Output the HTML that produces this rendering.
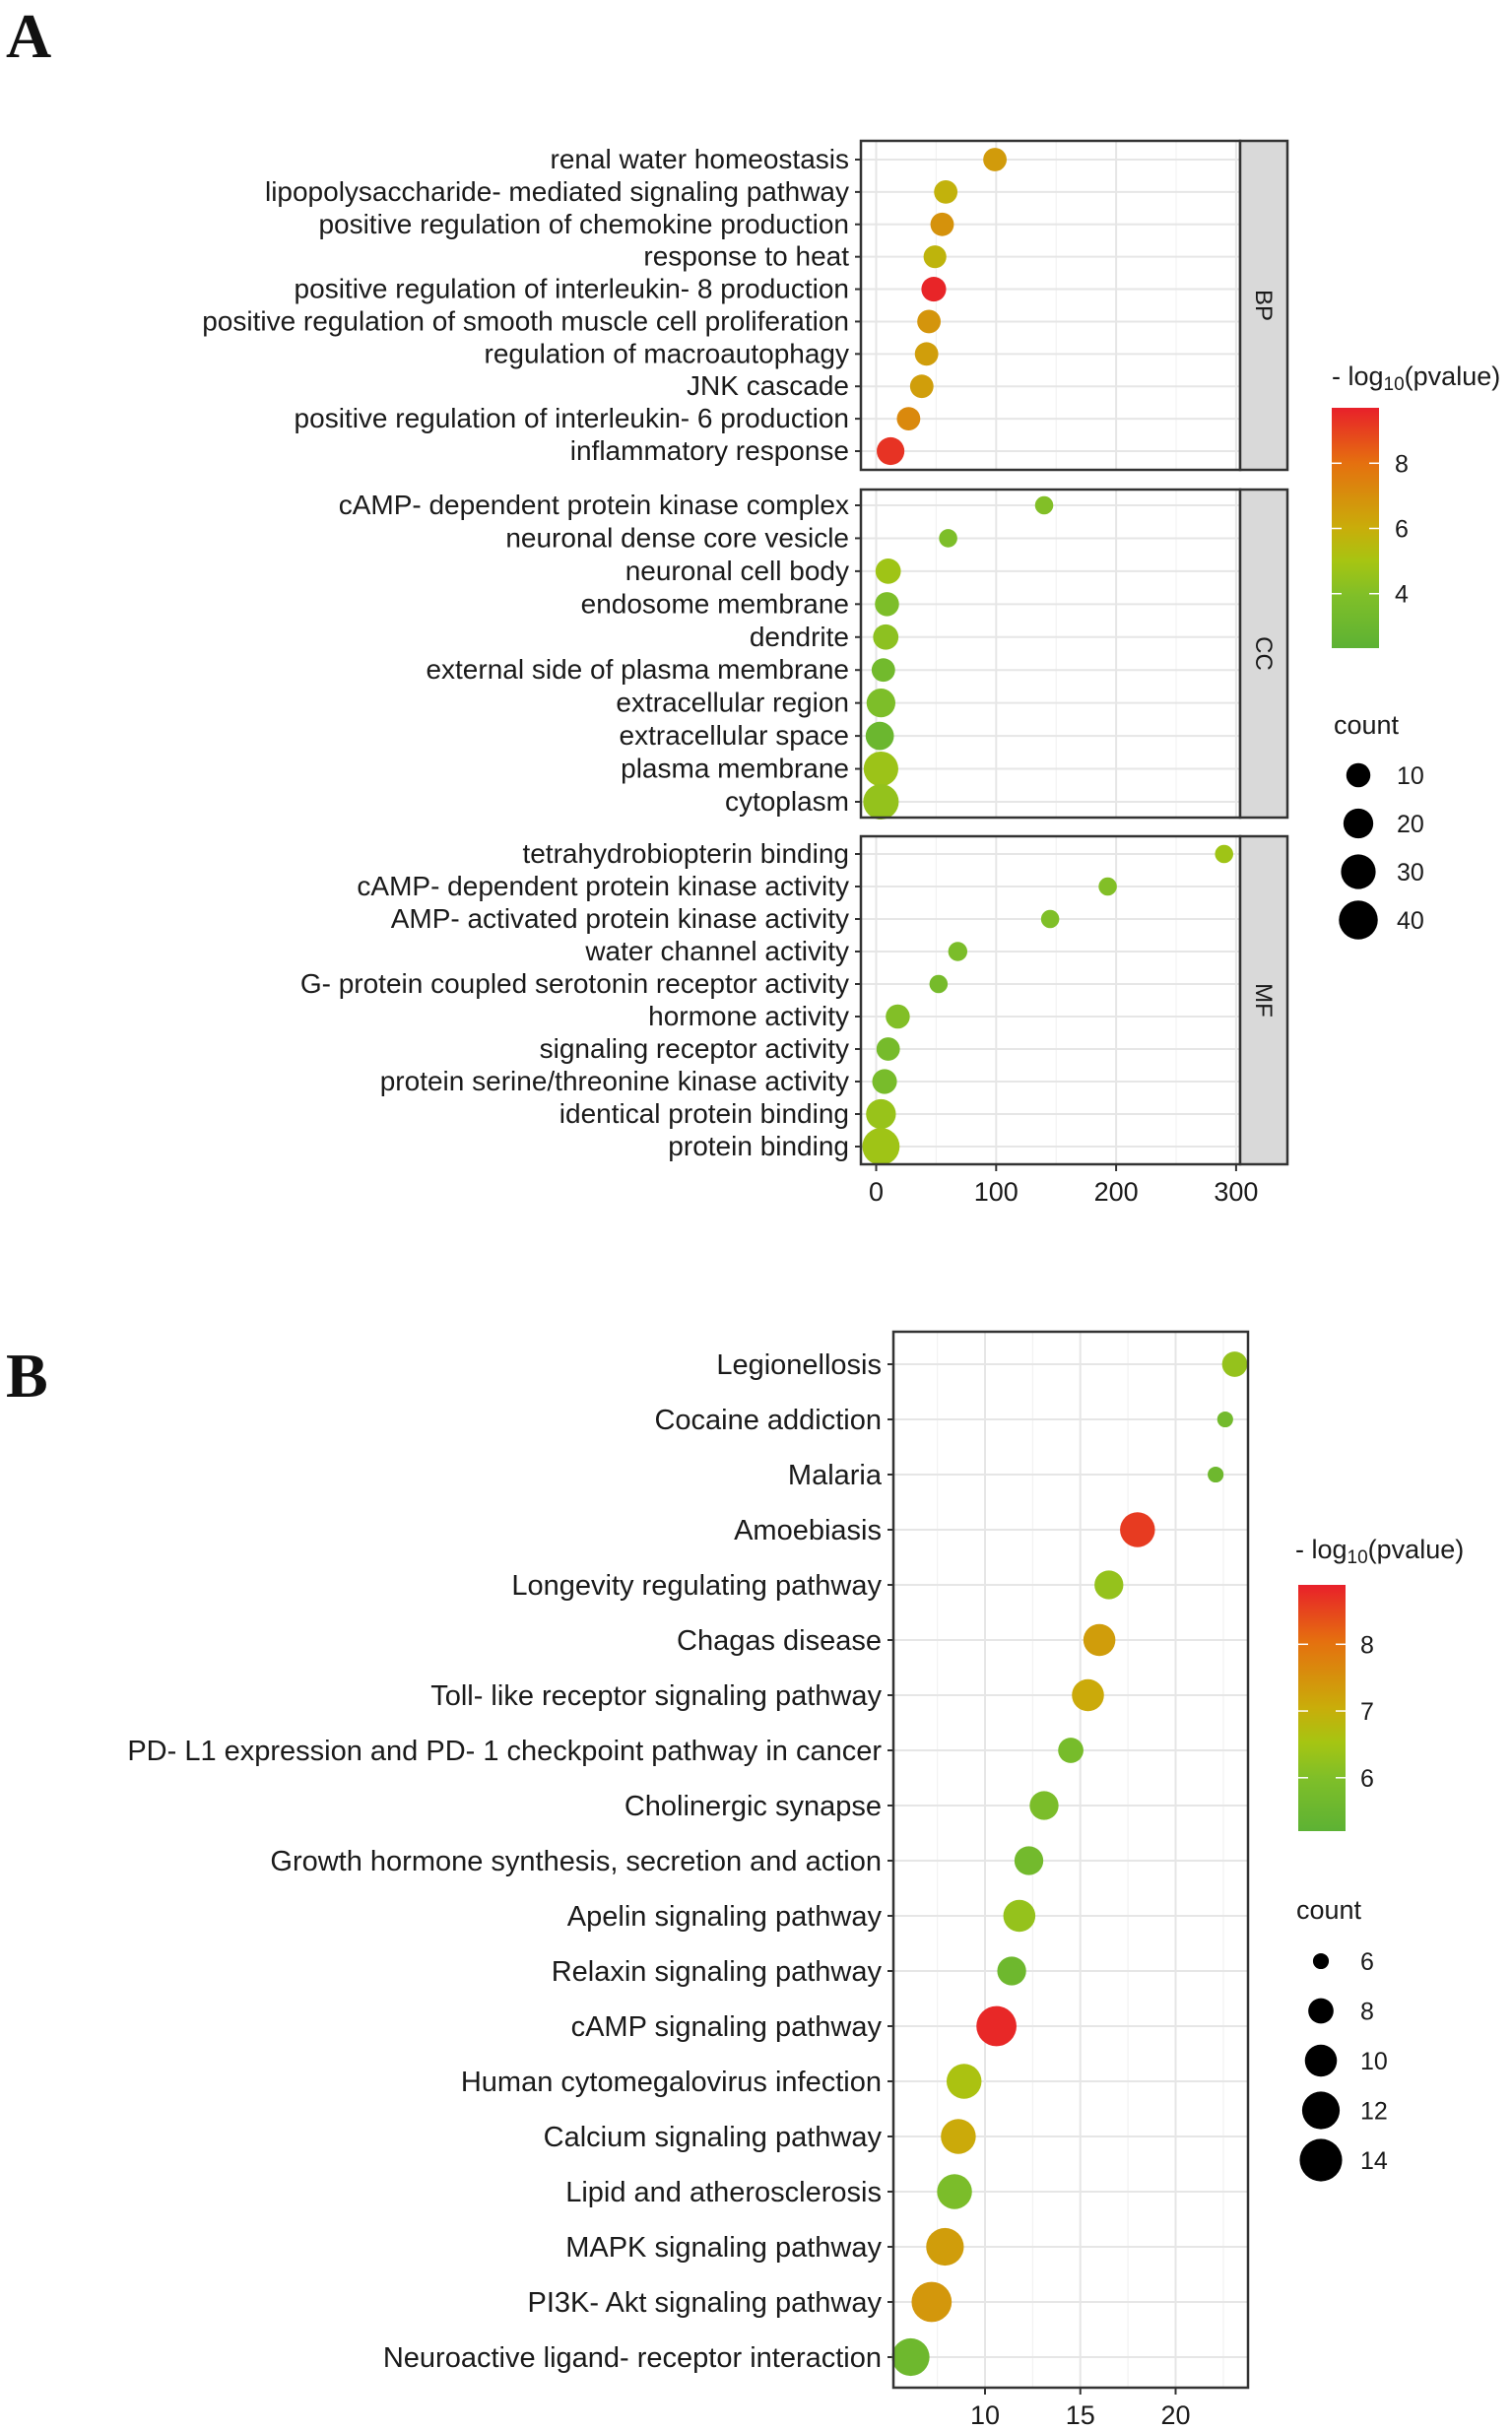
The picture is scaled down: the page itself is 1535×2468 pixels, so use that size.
<!DOCTYPE html>
<html><head><meta charset="utf-8"><style>
html,body{margin:0;padding:0;background:#fff;}
svg text{font-family:"Liberation Sans",Arial,sans-serif;fill:#1a1a1a;}
</style></head><body>
<svg id="fig" width="1535" height="2463" viewBox="0 0 1535 2463" xmlns="http://www.w3.org/2000/svg">
<defs>
<linearGradient id="grad" x1="0" y1="1" x2="0" y2="0">
<stop offset="0" stop-color="#5db234"/><stop offset="0.22" stop-color="#80bf28"/><stop offset="0.36" stop-color="#a6c512"/><stop offset="0.5" stop-color="#c9ad0a"/><stop offset="0.77" stop-color="#e5700f"/><stop offset="1" stop-color="#e8202a"/>
</linearGradient>
</defs>
<text x="6" y="58" style="font-family:'Liberation Serif',serif;font-weight:bold;font-size:64px;fill:#111">A</text>
<text x="6" y="1418" style="font-family:'Liberation Serif',serif;font-weight:bold;font-size:64px;fill:#111">B</text>
<g id="gA"></g>
<g id="gB"></g>
</svg>
<script>
// ---- Chart A data ----
const bpTerms=["renal water homeostasis","lipopolysaccharide- mediated signaling pathway","positive regulation of chemokine production","response to heat","positive regulation of interleukin- 8 production","positive regulation of smooth muscle cell proliferation","regulation of macroautophagy","JNK cascade","positive regulation of interleukin- 6 production","inflammatory response"];
const bpX=[99,58,55,49,48,44,42,38,27,12];
const bpP=[6.6,5.8,6.9,5.7,9.6,6.8,6.5,6.5,7.2,9.3];
const bpN=[9,9,9,8,11,9,9,9,9,16];
const ccTerms=["cAMP- dependent protein kinase complex","neuronal dense core vesicle","neuronal cell body","endosome membrane","dendrite","external side of plasma membrane","extracellular region","extracellular space","plasma membrane","cytoplasm"];
const ccX=[140,60,10,9,8,6,4,3,4,4];
const ccP=[4.0,3.8,4.8,3.8,4.3,3.3,3.8,3.0,4.7,4.5];
const ccN=[2,2,12,10,12,9,18,17,30,32];
const mfTerms=["tetrahydrobiopterin binding","cAMP- dependent protein kinase activity","AMP- activated protein kinase activity","water channel activity","G- protein coupled serotonin receptor activity","hormone activity","signaling receptor activity","protein serine/threonine kinase activity","identical protein binding","protein binding"];
const mfX=[290,193,145,68,52,18,10,7,4,4];
const mfP=[4.8,4.0,3.9,3.7,3.5,4.0,3.5,3.6,4.6,4.8];
const mfN=[2,2,2,3,2,10,9,11,20,36];
const aTicks=[0,100,200,300];
const aColorTicks=[4,6,8];
const aCountTicks=[10,20,30,40];
// ---- Chart B data ----
const bTerms=["Legionellosis","Cocaine addiction","Malaria","Amoebiasis","Longevity regulating pathway","Chagas disease","Toll- like receptor signaling pathway","PD- L1 expression and PD- 1 checkpoint pathway in cancer","Cholinergic synapse","Growth hormone synthesis, secretion and action","Apelin signaling pathway","Relaxin signaling pathway","cAMP signaling pathway","Human cytomegalovirus infection","Calcium signaling pathway","Lipid and atherosclerosis","MAPK signaling pathway","PI3K- Akt signaling pathway","Neuroactive ligand- receptor interaction"];
const bX=[23.1,22.6,22.1,18.0,16.5,16.0,15.4,14.5,13.1,12.3,11.8,11.4,10.6,8.9,8.6,8.4,7.9,7.2,6.1];
const bP=[6.3,5.7,5.6,8.6,6.3,7.3,7.1,5.8,5.9,5.7,6.3,5.6,8.8,6.6,7.1,5.9,7.3,7.4,5.6];
const bN=[8,6,6,11,9,10,10,8,9,9,10,9,13,11,11,11,12,13,12];
const bTicks=[10,15,20];
const bColorTicks=[6,7,8];
const bCountTicks=[6,8,10,12,14];

const NS="http://www.w3.org/2000/svg";
function mk(parent,tag,attrs){const e=document.createElementNS(NS,tag);for(const k in attrs)e.setAttribute(k,attrs[k]);parent.appendChild(e);return e;}
const stops=[[0,[93,178,52]],[0.22,[128,191,40]],[0.36,[166,197,18]],[0.5,[201,173,10]],[0.77,[229,112,15]],[1,[232,32,42]]];
function colorAt(f){f=Math.max(0,Math.min(1,f));for(let i=1;i<stops.length;i++){if(f<=stops[i][0]){const a=stops[i-1],b=stops[i];const t=(f-a[0])/(b[0]-a[0]);const c=a[1].map((v,j)=>Math.round(v+(b[1][j]-v)*t));return `rgb(${c[0]},${c[1]},${c[2]})`;}}return "rgb(232,32,42)";}

// ===== Chart A =====
const gA=document.getElementById('gA');
const axL=874,axR=1259;
const xA=v=>889.5+v*1.218;
const pMinA=2.33,pMaxA=9.7;
const rA=c=>Math.sqrt(70+8*c);
const facets=[["BP",143,477,162,bpTerms,bpX,bpP,bpN],["CC",497,830,513,ccTerms,ccX,ccP,ccN],["MF",849,1182,867,mfTerms,mfX,mfP,mfN]];
facets.forEach(f=>{
  const [name,top,bot,y0,terms,xs,ps,ns]=f;
  const yy=i=>y0+i*((bot-top)-2*(y0-top))/(terms.length-1);
  const panel=mk(gA,'g',{});
  
  
  mk(panel,'rect',{x:axL,y:top,width:axR-axL,height:bot-top,fill:'#fff'});
  for(let v=0;v<=300;v+=50){mk(panel,'line',{x1:xA(v),x2:xA(v),y1:top,y2:bot,stroke:v%100?'#f2f2f2':'#e6e6e6','stroke-width':v%100?1.2:2});}
  terms.forEach((t,i)=>{mk(panel,'line',{x1:axL,x2:axR,y1:yy(i),y2:yy(i),stroke:'#e6e6e6','stroke-width':2});});
  terms.forEach((t,i)=>{
    const y=yy(i);
    mk(panel,'line',{x1:axL-6,x2:axL,y1:y,y2:y,stroke:'#333','stroke-width':2});
    const tx=mk(panel,'text',{x:axL-12,y:y+9,'text-anchor':'end','font-size':28});
    tx.textContent=t;
    
    
    const c=mk(panel,'circle',{cx:xA(xs[i]),cy:y,r:rA(ns[i]),fill:colorAt((ps[i]-pMinA)/(pMaxA-pMinA))});
    
    
  });
  mk(panel,'rect',{x:axL,y:top,width:axR-axL,height:bot-top,fill:'none',stroke:'#333','stroke-width':2.5});
  const strip=mk(panel,'rect',{x:axR,y:top,width:48,height:bot-top,fill:'#d9d9d9',stroke:'#333','stroke-width':2.5});
  
  
  const st=mk(panel,'text',{x:0,y:0,'text-anchor':'middle','font-size':24,transform:`translate(${axR+16},${(top+bot)/2}) rotate(90)`});
  st.textContent=name;
});
aTicks.forEach(v=>{
  mk(gA,'line',{x1:xA(v),x2:xA(v),y1:1182,y2:1189,stroke:'#333','stroke-width':2});
  const t=mk(gA,'text',{x:xA(v),y:1219,'text-anchor':'middle','font-size':27});
  t.textContent=v;
  
  
});
(function(){
  const g=mk(gA,'g',{});
  
  
  const t=mk(g,'text',{x:1352,y:391,'font-size':27});
  t.innerHTML='- log<tspan font-size="19" dy="5">10</tspan><tspan dy="-5">(pvalue)</tspan>';
  const top=414,bot=658;
  mk(g,'rect',{x:1352,y:top,width:48,height:bot-top,fill:'url(#grad)'});
  const yC=v=>bot-(v-pMinA)/(pMaxA-pMinA)*(bot-top);
  aColorTicks.forEach(v=>{
    mk(g,'line',{x1:1352,x2:1362,y1:yC(v),y2:yC(v),stroke:'#fff','stroke-width':1.5});
    mk(g,'line',{x1:1390,x2:1400,y1:yC(v),y2:yC(v),stroke:'#fff','stroke-width':1.5});
    const l=mk(g,'text',{x:1416,y:yC(v)+9,'font-size':25});l.textContent=v;
  });
  const ct=mk(g,'text',{x:1354,y:745,'font-size':27});ct.textContent='count';
  aCountTicks.forEach((v,i)=>{
    const y=787+i*49;
    const c=mk(g,'circle',{cx:1379,cy:y,r:rA(v),fill:'#000'});
    
    
    const l=mk(g,'text',{x:1418,y:y+9,'font-size':25});l.textContent=v;
  });
})();

// ===== Chart B =====
const gB=document.getElementById('gB');
const bL=907,bR=1267,bT=1352,bBot=2424;
const xB=v=>1000+(v-10)*19.35;
const yB=i=>1385+i*(2393-1385)/(bTerms.length-1);
const pMinB=5.2,pMaxB=8.89;
const rB=c=>Math.sqrt(Math.max(30,-235+50*c));
mk(gB,'rect',{x:bL,y:bT,width:bR-bL,height:bBot-bT,fill:'#fff'});
for(let v=7.5;v<=22.5;v+=2.5){mk(gB,'line',{x1:xB(v),x2:xB(v),y1:bT,y2:bBot,stroke:(v%5)?'#f2f2f2':'#e6e6e6','stroke-width':(v%5)?1.2:2});}
bTerms.forEach((t,i)=>{mk(gB,'line',{x1:bL,x2:bR,y1:yB(i),y2:yB(i),stroke:'#e6e6e6','stroke-width':2});});
bTerms.forEach((t,i)=>{
  const y=yB(i);
  mk(gB,'line',{x1:bL-6,x2:bL,y1:y,y2:y,stroke:'#333','stroke-width':2});
  const tx=mk(gB,'text',{x:bL-12,y:y+10,'text-anchor':'end','font-size':29});
  tx.textContent=t;
  
  
  const c=mk(gB,'circle',{cx:xB(bX[i]),cy:y,r:rB(bN[i]),fill:colorAt((bP[i]-pMinB)/(pMaxB-pMinB))});
  
  
});
mk(gB,'rect',{x:bL,y:bT,width:bR-bL,height:bBot-bT,fill:'none',stroke:'#333','stroke-width':2.5});
bTicks.forEach(v=>{
  mk(gB,'line',{x1:xB(v),x2:xB(v),y1:bBot,y2:bBot+7,stroke:'#333','stroke-width':2});
  const t=mk(gB,'text',{x:xB(v),y:2461,'text-anchor':'middle','font-size':27});
  t.textContent=v;
  
  
});
(function(){
  const g=mk(gB,'g',{});
  
  
  const t=mk(g,'text',{x:1315,y:1582,'font-size':27});
  t.innerHTML='- log<tspan font-size="19" dy="5">10</tspan><tspan dy="-5">(pvalue)</tspan>';
  const top=1609,bot=1859;
  mk(g,'rect',{x:1318,y:top,width:48,height:bot-top,fill:'url(#grad)'});
  const yC=v=>bot-(v-pMinB)/(pMaxB-pMinB)*(bot-top);
  bColorTicks.forEach(v=>{
    mk(g,'line',{x1:1318,x2:1328,y1:yC(v),y2:yC(v),stroke:'#fff','stroke-width':1.5});
    mk(g,'line',{x1:1356,x2:1366,y1:yC(v),y2:yC(v),stroke:'#fff','stroke-width':1.5});
    const l=mk(g,'text',{x:1381,y:yC(v)+9,'font-size':25});l.textContent=v;
  });
  const ct=mk(g,'text',{x:1316,y:1948,'font-size':27});ct.textContent='count';
  bCountTicks.forEach((v,i)=>{
    const y=1991+i*50.5;
    const c=mk(g,'circle',{cx:1341,cy:y,r:rB(v),fill:'#000'});
    
    
    const l=mk(g,'text',{x:1381,y:y+9,'font-size':25});l.textContent=v;
  });
})();
</script>
</body></html>
